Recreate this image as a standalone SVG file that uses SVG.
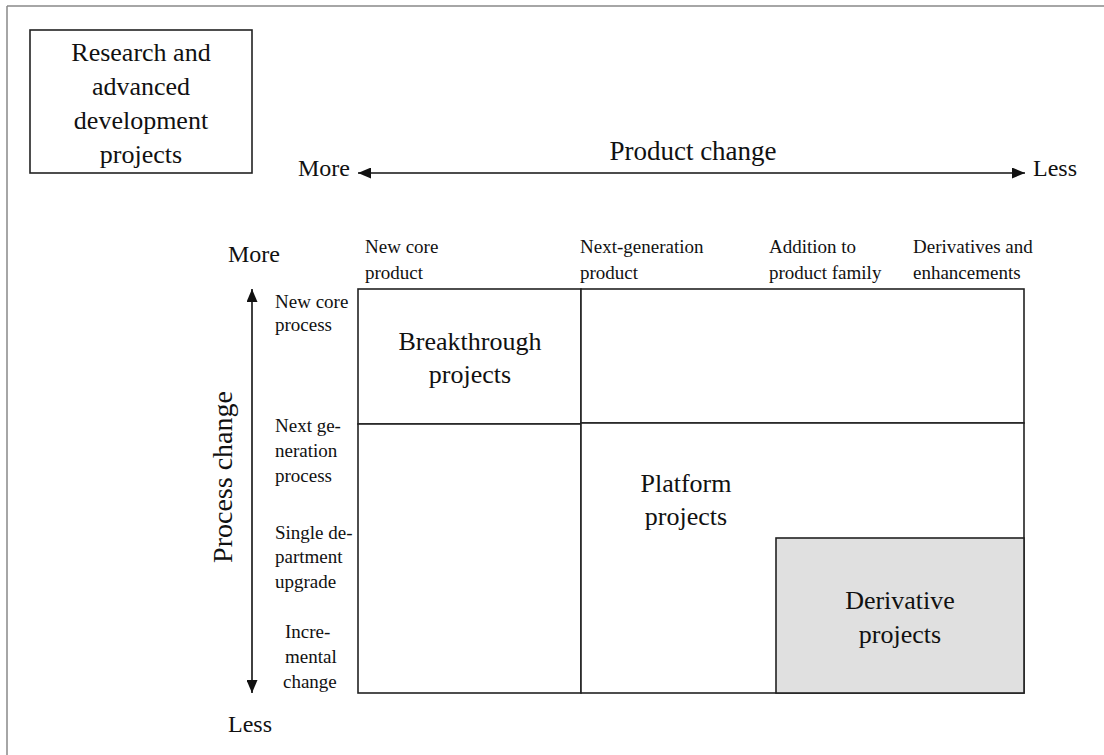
<svg xmlns="http://www.w3.org/2000/svg" width="1104" height="755" viewBox="0 0 1104 755">
<style>
text{font-family:"Liberation Serif","Times New Roman",serif;fill:#111}
.big{font-size:26px}
.ax{font-size:24px}
.sm{font-size:19px}
.box{fill:#fff;stroke:#222;stroke-width:1.6}
.axis{stroke:#111;stroke-width:1.6;fill:none}
</style>
<defs>
<marker id="ah" viewBox="0 0 13 11" refX="13" refY="5.5" markerWidth="13" markerHeight="11" markerUnits="userSpaceOnUse" orient="auto-start-reverse">
<path d="M0,0 L13,5.5 L0,11 Z" fill="#111"/>
</marker>
</defs>
<rect width="1104" height="755" fill="#fff"/>
<g id="frame">
<line x1="7" y1="6" x2="1104" y2="6" stroke="#888" stroke-width="1.5"/>
<line x1="7" y1="6" x2="7" y2="755" stroke="#888" stroke-width="1.5"/>
</g>
<g id="rnd">
<rect x="30" y="30" width="222" height="143" fill="#fff" stroke="#222" stroke-width="1.6"/>
<text class="big" text-anchor="middle" x="141" y="61">Research and</text>
<text class="big" text-anchor="middle" x="141" y="95">advanced</text>
<text class="big" text-anchor="middle" x="141" y="129">development</text>
<text class="big" text-anchor="middle" x="141" y="163">projects</text>
</g>
<g id="connectors">
<line class="axis" x1="358" y1="173" x2="1025" y2="173" marker-start="url(#ah)" marker-end="url(#ah)"/>
<line class="axis" x1="252" y1="289" x2="252" y2="693" marker-start="url(#ah)" marker-end="url(#ah)"/>
</g>
<g id="product-axis-labels">
<text x="693" y="160" text-anchor="middle" style="font-size:27px">Product change</text>
<text class="ax" x="298" y="176">More</text>
<text class="ax" x="1033" y="176">Less</text>
</g>
<g id="process-axis-labels">
<text class="ax" x="228" y="262">More</text>
<text class="ax" x="228" y="732">Less</text>
<text transform="translate(232,477) rotate(-90)" text-anchor="middle" style="font-size:28px">Process change</text>
</g>
<g id="column-headers">
<text class="sm" x="365" y="253">New core</text>
<text class="sm" x="365" y="279">product</text>
<text class="sm" x="580" y="253">Next-generation</text>
<text class="sm" x="580" y="279">product</text>
<text class="sm" x="769" y="253">Addition to</text>
<text class="sm" x="769" y="279">product family</text>
<text class="sm" x="913" y="253">Derivatives and</text>
<text class="sm" x="913" y="279">enhancements</text>
</g>
<g id="row-headers">
<text class="sm" x="275" y="308">New core</text>
<text class="sm" x="275" y="331">process</text>
<text class="sm" x="275" y="432">Next ge-</text>
<text class="sm" x="275" y="457">neration</text>
<text class="sm" x="275" y="482">process</text>
<text class="sm" x="275" y="539">Single de-</text>
<text class="sm" x="275" y="563">partment</text>
<text class="sm" x="275" y="588">upgrade</text>
<text class="sm" x="285" y="638">Incre-</text>
<text class="sm" x="285" y="663">mental</text>
<text class="sm" x="283" y="688">change</text>
</g>
<g id="breakthrough">
<rect class="box" x="358" y="289" width="223" height="135"/>
<text class="big" text-anchor="middle" x="470" y="350">Breakthrough</text>
<text class="big" text-anchor="middle" x="470" y="383">projects</text>
</g>
<g id="top-right-cell">
<rect class="box" x="581" y="289" width="443" height="134"/>
</g>
<g id="bottom-left-cell">
<rect class="box" x="358" y="424" width="223" height="269"/>
</g>
<g id="platform">
<rect class="box" x="581" y="423" width="443" height="270"/>
<text class="big" text-anchor="middle" x="686" y="492">Platform</text>
<text class="big" text-anchor="middle" x="686" y="525">projects</text>
</g>
<g id="derivative">
<rect x="776" y="538" width="248" height="155" fill="#e0e0e0" stroke="#222" stroke-width="1.6"/>
<text class="big" text-anchor="middle" x="900" y="609">Derivative</text>
<text class="big" text-anchor="middle" x="900" y="643">projects</text>
</g>
</svg>
